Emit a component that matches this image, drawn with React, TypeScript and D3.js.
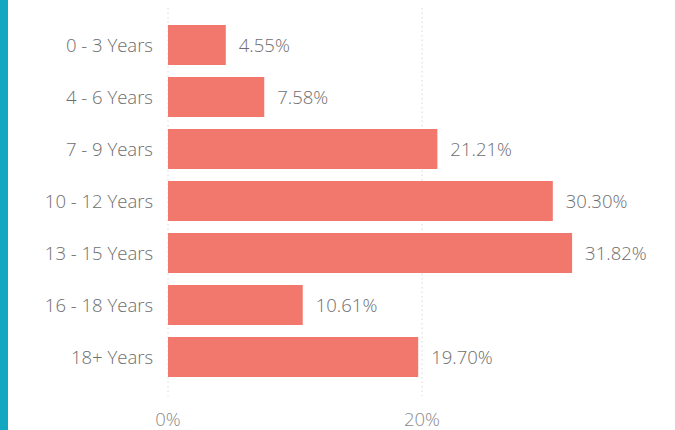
import React from "react";
import * as d3 from "d3";

const categories = ["0 - 3 Years", "4 - 6 Years", "7 - 9 Years", "10 - 12 Years", "13 - 15 Years", "16 - 18 Years", "18+ Years"];
const values = [4.55, 7.58, 21.21, 30.3, 31.82, 10.61, 19.7];
const ticks = [0, 20];

export default function App() {
  const W = 675, H = 430;
  const x = d3.scaleLinear().domain([0, 20]).range([168, 422]);
  const y = d3.scaleBand().domain(categories).range([19, 383]).paddingInner(12 / 52).paddingOuter(6 / 52);
  const font = "'Open Sans', 'Segoe UI', sans-serif";
  return (
    <div style={{ position: "fixed", left: 0, top: 0 }}>
      <svg width={W} height={H} style={{ display: "block", background: "#fff" }}>
        <rect x={0} y={0} width={8} height={H} fill="#13a7c1" />
        {ticks.map((t) => (
          <g key={t}>
            <line x1={x(t)} x2={x(t)} y1={8} y2={396} stroke="#d8d8d8" strokeWidth={1} strokeDasharray="1.5,3" />
            <text x={x(t)} y={426} textAnchor="middle" fontFamily={font} fontSize={18.5} fontWeight={300} fill="#8a8a8a">{t}%</text>
          </g>
        ))}
        {categories.map((c, i) => {
          const yy = y(c)!;
          const bw = y.bandwidth();
          return (
            <g key={c}>
              <rect x={x(0)} y={yy} width={x(values[i]) - x(0)} height={bw} fill="#f2786d" />
              <text x={153} y={yy + bw / 2 + 1} dy="0.35em" textAnchor="end" fontFamily={font} fontSize={18.5} fontWeight={300} fill="#6e6e6e">{c}</text>
              <text x={x(values[i]) + 13} y={yy + bw / 2 + 1} dy="0.35em" textAnchor="start" fontFamily={font} fontSize={18.5} fontWeight={300} fill="#6e6e6e">{values[i].toFixed(2)}%</text>
            </g>
          );
        })}
      </svg>
    </div>
  );
}
